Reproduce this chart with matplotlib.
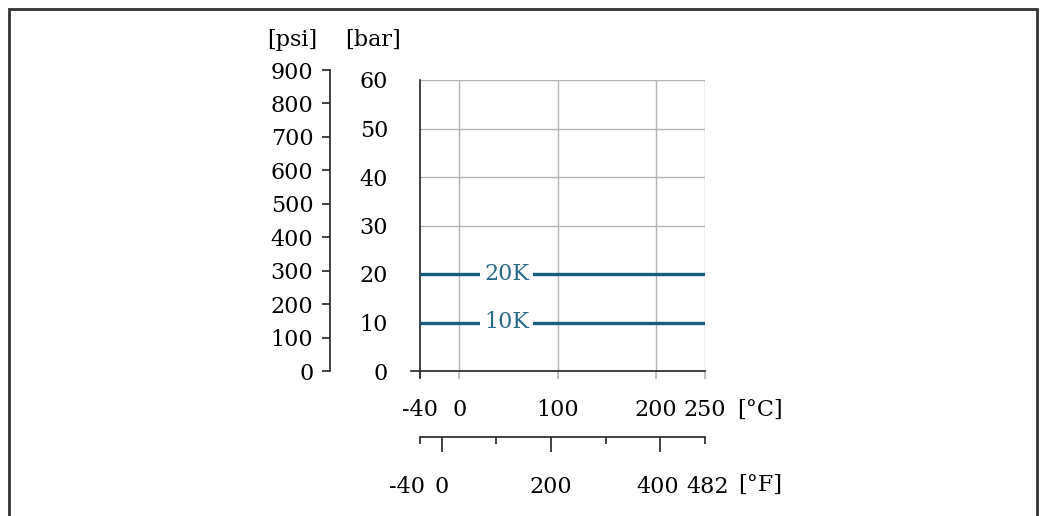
import matplotlib.pyplot as plt
from matplotlib.patches import Rectangle
from matplotlib.transforms import ScaledTranslation

# data
temp_c_min, temp_c_max = -40, 250
bar_ticks = [0, 10, 20, 30, 40, 50, 60]
psi_ticks = [0, 100, 200, 300, 400, 500, 600, 700, 800, 900]
c_ticks = [-40, 0, 100, 200, 250]
f_major = [-40, 0, 200, 400, 482]
f_minor = [100, 300]
series_names = ["20K", "10K"]
series_bar = [20, 10]
label_pos_c = [48, 48]

BAR_TO_PSI = 14.5038
W, H = 1043, 516
line_col = "#155e7e"
text_col = "#2b6b89"
grid_col = "#b4b4b4"
plt.rcParams['font.family'] = ['DejaVu Serif']
fs = 16

fig = plt.figure(figsize=(W / 100, H / 100), dpi=100)

# border frame
fig.patches.append(Rectangle((9 / W, -0.1), 1028 / W, (H - 9) / H + 0.1,
                             transform=fig.transFigure, fill=False,
                             edgecolor="#333333", linewidth=2))

x0, x1, y0, y1 = 420, 705, 80, 371
ax = fig.add_axes([x0 / W, (H - y1) / H, (x1 - x0) / W, (y1 - y0) / H])
ax.set_xlim(temp_c_min, temp_c_max)
ax.set_ylim(0, 60)
for s in ["top", "right", "bottom"]:
    ax.spines[s].set_visible(False)
ax.spines["left"].set_color("#222222")
ax.spines["left"].set_linewidth(1.2)
ax.spines["left"].set_bounds(-1.5, 60)

# grid
for v in bar_ticks[1:]:
    ax.axhline(v, color=grid_col, lw=1, zorder=0)
for v in c_ticks[1:]:
    ax.axvline(v, color=grid_col, lw=1, zorder=0)

# bottom spine extended left
ax.plot([-0.03, 1.0], [0, 0], transform=ax.transAxes, color="#222222",
        lw=1.2, clip_on=False)

ax.set_yticks(bar_ticks)
ax.set_yticklabels([str(v) for v in bar_ticks])
ax.tick_params(axis="y", length=0, pad=23, labelsize=fs)
ax.set_xticks(c_ticks)
ax.set_xticklabels([str(v) for v in c_ticks])
ax.tick_params(axis="x", length=6, width=1.2, color=grid_col, pad=14, labelsize=fs)
ax.xaxis.get_major_ticks()[0].tick1line.set_color("#222222")

for name, v, xp in zip(series_names, series_bar, label_pos_c):
    ax.plot([temp_c_min, temp_c_max], [v, v], color=line_col, lw=2.4, zorder=3,
            solid_capstyle="butt")
    ax.text(xp, v, name, color=text_col, fontsize=fs, ha="center", va="center",
            zorder=4, bbox=dict(facecolor="white", edgecolor="none", pad=3))

# psi axis
psi_top = 60 * BAR_TO_PSI
h_main = (y1 - y0) / H
axp = fig.add_axes([330 / W, (H - y1) / H, 0.001, h_main * 900 / psi_top])
axp.set_ylim(0, 900)
axp.patch.set_visible(False)
for s in ["top", "right", "bottom"]:
    axp.spines[s].set_visible(False)
axp.spines["left"].set_color("#222222")
axp.spines["left"].set_linewidth(1.2)
axp.set_xticks([])
axp.set_yticks(psi_ticks)
axp.set_yticklabels([str(v) for v in psi_ticks])
axp.tick_params(axis="y", length=6, width=1.2, color="#222222", pad=6, labelsize=fs)

# Fahrenheit axis
yf = 437
axf = fig.add_axes([x0 / W, (H - yf) / H, (x1 - x0) / W, 0.001])
axf.set_xlim(temp_c_min * 9 / 5 + 32, temp_c_max * 9 / 5 + 32)
axf.patch.set_visible(False)
for s in ["top", "right", "left"]:
    axf.spines[s].set_visible(False)
axf.spines["bottom"].set_color("#222222")
axf.spines["bottom"].set_linewidth(1.2)
axf.set_yticks([])
axf.set_xticks(f_major)
axf.set_xticklabels([str(v) for v in f_major])
axf.set_xticks(f_minor, minor=True)
axf.tick_params(axis="x", which="major", length=11, width=1.2, color="#222222",
                pad=17, labelsize=fs)
axf.tick_params(axis="x", which="minor", length=5, width=1.2, color="#222222")
for i in (0, len(f_major) - 1):
    axf.xaxis.get_major_ticks()[i].tick1line.set_markersize(5)
# nudge crowded labels apart
for lbl, dx in zip(axf.get_xticklabels(), [-13, 0, 0, -3, 3]):
    if dx:
        lbl.set_transform(lbl.get_transform() + ScaledTranslation(dx / 100, 0, fig.dpi_scale_trans))

# unit labels
fig.text(292 / W, 1 - 40 / H, "[psi]", fontsize=fs, ha="center", va="center")
fig.text(373 / W, 1 - 40 / H, "[bar]", fontsize=fs, ha="center", va="center")
fig.text(760 / W, 1 - 410 / H, "[°C]", fontsize=fs, ha="center", va="center")
fig.text(760 / W, 1 - 485 / H, "[°F]", fontsize=fs, ha="center", va="center")

fig.savefig("out.png", dpi=100)
